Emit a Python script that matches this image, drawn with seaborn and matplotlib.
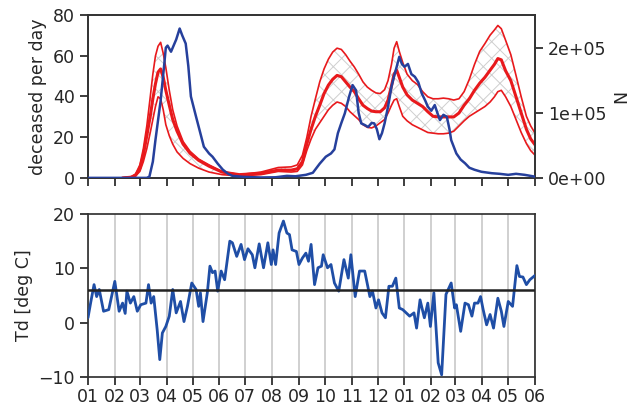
import numpy as np
import pandas as pd
import seaborn as sns
import matplotlib.pyplot as plt
import matplotlib.dates as mdates
from matplotlib.ticker import FormatStrFormatter

start = pd.Timestamp("2020-01-01")
end = pd.Timestamp("2021-06-01")

# deceased per day (days since 2020-01-01)
dec_days = [0, 68, 71, 75, 78, 84, 88, 90, 92, 96, 98, 102, 106, 109, 113, 116, 119, 125,
            129, 134, 140, 144, 150, 156, 162, 167, 180, 200, 217, 230, 240, 252, 260, 268,
            275, 281, 285, 289, 293, 297, 302, 306, 310, 313, 316, 320, 324, 328, 331, 334,
            337, 340, 343, 347, 351, 354, 357, 360, 363, 366, 370, 374, 378, 382, 386, 390,
            393, 397, 401, 404, 407, 411, 415, 418, 420, 426, 431, 436, 441, 447, 455, 467,
            476, 486, 495, 505, 517]
dec_vals = [0, 0, 0.6, 8, 18.6, 38, 55, 64, 65, 62, 64, 68, 73.4, 70, 66, 55, 40, 30,
            23.5, 15.3, 12, 10.4, 7, 4, 2, 1, 0.5, 0.2, 0.3, 1, 0.8, 1.5, 2.5, 7,
            10.4, 12, 14, 22, 27, 31.7, 40, 45.6, 43, 32, 26.8, 26, 25, 27, 26.8, 24,
            19, 22, 26.8, 35, 44.8, 50, 54.6, 59.5, 56, 54.6, 56, 51, 49.7, 47, 41.5, 38,
            35, 33, 35.8, 32, 28.4, 31, 30, 24, 18.6, 12, 9, 7.2, 5, 4, 3, 2.3,
            2, 1.5, 2, 1.5, 0.6]

# modelled N (units of 1e5)
n_days = [40, 50, 55, 60, 64, 68, 72, 75, 78, 81, 84, 87, 90, 94, 98, 103, 110, 118, 128,
          140, 155, 175, 200, 220, 235, 242, 248,
          253, 258, 263, 268, 273, 278, 283, 288, 293, 298, 303, 308, 313, 318, 323, 328,
          333, 338, 343, 347, 351, 354, 357, 360, 364, 369, 375, 381, 387, 393, 399, 405,
          411, 417, 423, 429, 435, 441, 447, 453, 459, 465, 470, 474, 478, 483, 489, 495,
          501, 507, 512, 517]
n_upper = [0, 0.02, 0.06, 0.2, 0.45, 0.8, 1.25, 1.6, 1.88, 2.03, 2.09, 1.92, 1.7, 1.35,
           1.05, 0.8, 0.56, 0.41, 0.29, 0.2, 0.1, 0.05, 0.09, 0.16, 0.17, 0.2, 0.35,
           0.62, 0.95, 1.22, 1.48, 1.68, 1.83, 1.94, 2.0, 1.98, 1.9, 1.8, 1.71, 1.6, 1.48,
           1.40, 1.35, 1.31, 1.30, 1.36, 1.5, 1.75, 2.0, 2.1, 1.95, 1.78, 1.6, 1.5, 1.44,
           1.33, 1.25, 1.22, 1.22, 1.23, 1.22, 1.2, 1.22, 1.33, 1.52, 1.75, 1.95, 2.07, 2.2,
           2.28, 2.35, 2.3, 2.12, 1.9, 1.58, 1.25, 0.95, 0.8, 0.69]
n_mid = [0, 0.01, 0.04, 0.15, 0.35, 0.65, 0.95, 1.22, 1.45, 1.63, 1.68, 1.55, 1.35, 1.12,
         0.9, 0.72, 0.52, 0.38, 0.27, 0.18, 0.09, 0.05, 0.07, 0.12, 0.12, 0.14, 0.25,
         0.52, 0.75, 0.95, 1.12, 1.3, 1.43, 1.52, 1.58, 1.56, 1.48, 1.4, 1.33, 1.22, 1.12,
         1.07, 1.03, 1.02, 1.02, 1.08, 1.2, 1.42, 1.6, 1.66, 1.55, 1.4, 1.28, 1.2, 1.15,
         1.1, 1.02, 0.95, 0.94, 0.94, 0.94, 0.94, 1.0, 1.12, 1.22, 1.35, 1.46, 1.55, 1.66,
         1.75, 1.84, 1.82, 1.65, 1.5, 1.25, 1.0, 0.75, 0.6, 0.51]
n_lower = [0, 0.01, 0.03, 0.1, 0.25, 0.45, 0.7, 0.9, 1.1, 1.25, 1.22, 1.05, 0.82, 0.65,
           0.52, 0.4, 0.3, 0.22, 0.15, 0.09, 0.05, 0.03, 0.05, 0.1, 0.09, 0.1, 0.2,
           0.42, 0.6, 0.75, 0.85, 0.95, 1.05, 1.12, 1.17, 1.15, 1.1, 1.02, 0.96, 0.9, 0.82,
           0.78, 0.77, 0.8, 0.85, 0.9, 1.0, 1.12, 1.2, 1.22, 1.1, 0.95, 0.88, 0.82, 0.78,
           0.74, 0.7, 0.69, 0.68, 0.68, 0.69, 0.72, 0.8, 0.88, 0.95, 1.0, 1.05, 1.1, 1.17,
           1.25, 1.33, 1.35, 1.25, 1.1, 0.9, 0.7, 0.53, 0.42, 0.35]

# dew point temperature
td_days = [0, 3, 7, 10, 13, 18, 24, 31, 36, 40, 43, 45, 49, 53, 57, 61, 67, 70, 73, 76,
           80, 83, 86, 90, 94, 98, 102, 107, 111, 115, 120, 125, 128, 130, 133, 138, 141,
           144, 147, 150, 154, 158, 164, 167, 172, 177, 181, 185, 190, 193, 198, 203, 208,
           212, 214, 217, 221, 226, 230, 233, 236, 241, 244, 248, 252, 255, 258, 262, 266,
           270, 272, 277, 281, 285, 290, 296, 301, 304, 309, 314, 320, 326, 329, 333, 336,
           340, 344, 348, 352, 356, 360, 364, 372, 377, 380, 384, 389, 393, 396, 400, 405,
           409, 414, 420, 424, 426, 431, 436, 440, 444, 447, 451, 454, 457, 461, 465, 469,
           474, 478, 481, 486, 491, 496, 499, 503, 507, 511, 517]
td_vals = [0.9, 3.6, 7.0, 4.8, 6.1, 2.1, 2.4, 7.6, 2.1, 3.6, 1.7, 5.8, 3.6, 4.8, 2.1, 3.3,
           3.6, 7.0, 3.6, 4.8, -1.3, -6.8, -1.9, -0.7, 1.2, 6.1, 1.8, 3.9, 0.2, 3.0, 7.3,
           6.1, 3.0, 5.5, 0.2, 5.5, 10.4, 9.2, 9.5, 5.8, 9.5, 7.9, 15.0, 14.7, 12.2, 14.4,
           11.6, 13.6, 12.5, 10.1, 14.5, 10.1, 14.7, 10.7, 13.4, 10.7, 16.5, 18.7, 16.5,
           16.2, 13.4, 13.1, 10.7, 11.9, 12.8, 11.3, 14.4, 7.0, 10.1, 10.4, 12.5, 10.1,
           10.7, 7.3, 5.8, 11.6, 8.2, 12.5, 4.8, 9.5, 9.5, 4.8, 5.8, 2.7, 4.2, 1.8, 0.9,
           6.7, 6.7, 8.2, 2.7, 2.4, 1.2, 1.8, -1.0, 4.2, 0.9, 3.6, -0.7, 5.5, -7.4, -9.6,
           5.2, 7.3, 2.7, 3.3, -1.6, 3.6, 3.3, 1.2, 3.6, 3.6, 4.8, 2.4, -0.4, 1.5, -1.0,
           4.5, 2.1, -0.7, 3.9, 3.0, 10.5, 8.5, 8.4, 7.0, 7.9, 8.7]
td_mean = 6.0

sns.set_theme(style="ticks")
plt.rcParams.update({
    "font.size": 12.5, "axes.labelsize": 12.5,
    "xtick.labelsize": 12.5, "ytick.labelsize": 12.5,
    "axes.edgecolor": "#333333", "hatch.linewidth": 0.7,
})

def to_dates(days):
    return start + pd.to_timedelta(days, unit="D")

dec = pd.DataFrame({"date": to_dates(dec_days), "deceased": dec_vals})
model = pd.DataFrame({"date": to_dates(n_days),
                      "upper": np.array(n_upper) * 1e5,
                      "mid": np.array(n_mid) * 1e5,
                      "lower": np.array(n_lower) * 1e5})
td = pd.DataFrame({"date": to_dates(td_days), "Td": td_vals})

fig = plt.figure(figsize=(6.4, 4.08), dpi=100)
ax1 = fig.add_axes([0.1375, 0.564, 0.6985, 0.399])
ax2 = fig.add_axes([0.1375, 0.076, 0.6985, 0.3995])
ax1r = ax1.twinx()

red = "#e8191c"
ax1r.fill_between(model["date"], model["lower"], model["upper"],
                  facecolor="none", edgecolor="#cfcfcf", hatch="xx", linewidth=0)
sns.lineplot(data=model, x="date", y="upper", ax=ax1r, color=red, lw=1.2)
sns.lineplot(data=model, x="date", y="lower", ax=ax1r, color=red, lw=1.2)
sns.lineplot(data=model, x="date", y="mid", ax=ax1r, color=red, lw=2.2)
sns.lineplot(data=dec, x="date", y="deceased", ax=ax1, color="#26409c", lw=1.8, zorder=3)
ax1.set_zorder(ax1r.get_zorder() + 1)
ax1.patch.set_visible(False)

ax1.set_ylim(0, 80)
ax1.set_yticks([0, 20, 40, 60, 80])
ax1.set_ylabel("deceased per day")
ax1r.set_ylim(0, 2.51e5)
ax1r.set_yticks([0, 1e5, 2e5])
ax1r.yaxis.set_major_formatter(FormatStrFormatter("%.0e"))
ax1r.set_ylabel("N")
ax1.set_xlabel("")
ax1r.set_xlabel("")

sns.lineplot(data=td, x="date", y="Td", ax=ax2, color="#1f4ea6", lw=2.0, zorder=3)
ax2.axhline(td_mean, color="#222222", lw=1.8, zorder=4)
ax2.set_ylim(-10, 20)
ax2.set_yticks([-10, 0, 10, 20])
ax2.set_ylabel("Td [deg C]")
ax2.set_xlabel("")
ax2.grid(axis="x", color="#c8c8c8", lw=1.2)

for ax in (ax1, ax1r, ax2):
    ax.set_xlim(start, end)
    ax.xaxis.set_major_locator(mdates.MonthLocator())
    ax.xaxis.set_major_formatter(mdates.DateFormatter("%m"))
    for s in ax.spines.values():
        s.set_visible(True)
ax1.tick_params(axis="x", labelbottom=False)
ax2.tick_params(axis="x", pad=2)

fig.savefig("out.png", dpi=100)
